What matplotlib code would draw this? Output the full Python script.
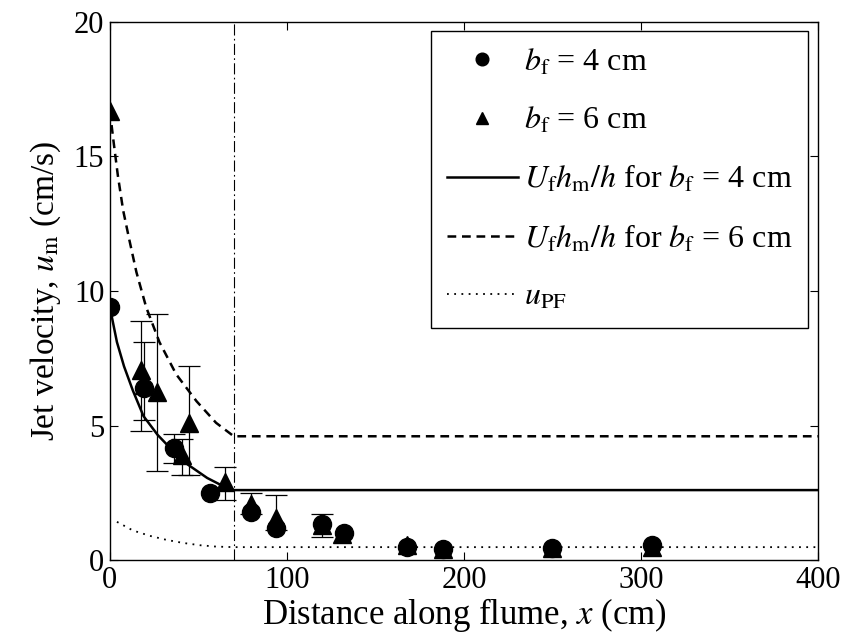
import matplotlib
matplotlib.use('Agg')
import matplotlib.pyplot as plt

plt.rcParams['font.family'] = ['Liberation Serif', 'DejaVu Serif']
plt.rcParams['mathtext.fontset'] = 'stix'

# measured points, b_f = 4 cm (circles) and b_f = 6 cm (triangles)
circ_x = [0, 19.5, 36, 56.5, 80, 93.8, 120, 132, 168, 188, 250, 306]
circ_y = [9.4, 6.4, 4.15, 2.5, 1.8, 1.2, 1.35, 1.0, 0.5, 0.4, 0.45, 0.55]
tri_x = [0, 17.5, 19.5, 26.5, 40.7, 44.6, 65, 80, 93.8, 120, 131, 168, 188, 250, 306]
tri_y = [16.7, 7.05, 6.5, 6.25, 3.9, 5.1, 2.9, 2.1, 1.55, 1.3, 0.95, 0.55, 0.4, 0.45, 0.5]

# error bars (low / high ends)
err_x = [17.5, 19.5, 26.5, 36, 40.7, 44.6, 65, 80, 93.8, 120]
err_lo = [4.8, 5.2, 3.3, 3.6, 3.15, 3.15, 2.25, 1.7, 1.1, 0.85]
err_hi = [8.9, 8.1, 9.15, 4.7, 4.5, 7.2, 3.45, 2.5, 2.4, 1.7]

# U_f h_m / h curves
sol_x = [0, 4, 8, 13, 19, 27, 35, 44, 55, 63, 70, 400]
sol_y = [9.4, 8.1, 7.2, 6.3, 5.35, 4.65, 4.1, 3.55, 3.05, 2.78, 2.6, 2.6]
dsh_x = [0, 2, 4.5, 7.5, 11, 15, 20.5, 28, 37.5, 49, 60, 70, 400]
dsh_y = [16.7, 15.6, 14.3, 13.0, 11.9, 10.7, 9.4, 8.1, 6.9, 5.9, 5.1, 4.6, 4.6]

# u_PF
pf_x = [4, 13, 22.6, 32, 41, 51, 60, 70, 400]
pf_y = [1.42, 1.1, 0.9, 0.75, 0.64, 0.55, 0.5, 0.48, 0.48]

x_trans = 70

fig = plt.figure(figsize=(8.45, 6.43), dpi=100)
ax = fig.add_axes([0.130, 0.129, 0.838, 0.837])

ax.axvline(x_trans, color='k', lw=0.8, ls=(0, (10, 3, 1.5, 3)))

mid = [(a + b) / 2 for a, b in zip(err_lo, err_hi)]
half = [(b - a) / 2 for a, b in zip(err_lo, err_hi)]
ax.errorbar(err_x, mid, yerr=half, fmt='none', ecolor='k', elinewidth=0.9, capsize=8, capthick=0.9)

ax.plot(circ_x, circ_y, 'o', color='k', ms=13, label=r'$b_{\rm f}$ = 4 cm')
ax.plot(tri_x, tri_y, '^', color='k', ms=13, label=r'$b_{\rm f}$ = 6 cm')
ax.plot(sol_x, sol_y, '-', color='k', lw=1.8, label=r'$U_{\rm f}h_{\rm m}/h$ for $b_{\rm f}$ = 4 cm')
ax.plot(dsh_x, dsh_y, color='k', lw=1.8, ls=(0, (3.5, 2.3)), label=r'$U_{\rm f}h_{\rm m}/h$ for $b_{\rm f}$ = 6 cm')
ax.plot(pf_x, pf_y, color='k', lw=1.3, ls=(0, (1, 3)), label=r'$u_{\rm PF}$')

ax.set_xlim(0, 400)
ax.set_ylim(0, 20)
ax.set_xticks([0, 100, 200, 300, 400])
ax.set_yticks([0, 5, 10, 15, 20])
ax.tick_params(direction='in', top=True, right=True, length=6, width=0.8, labelsize=22, pad=4)
for s in ax.spines.values():
    s.set_linewidth(1.0)

ax.set_xlabel(r'Distance along flume, $x$ (cm)', fontsize=25, labelpad=1)
ax.set_ylabel(r'Jet velocity, $u_{\rm m}$ (cm/s)', fontsize=24, labelpad=8)

leg = ax.legend(loc='upper right', fontsize=23, frameon=True, fancybox=False, edgecolor='k',
                framealpha=1, borderaxespad=0.3, labelspacing=0.88, handlelength=2.2,
                handletextpad=0.2, borderpad=0.5, markerscale=0.7)
leg.get_frame().set_linewidth(1.0)

fig.savefig('out.png', dpi=100)
plt.close()
